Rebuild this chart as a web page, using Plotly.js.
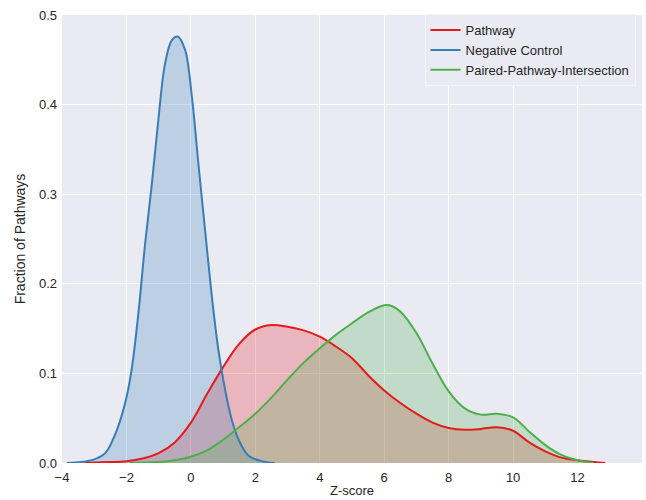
<!DOCTYPE html>
<html>
<head>
<meta charset="utf-8">
<script src="https://cdn.plot.ly/plotly-3.0.1.min.js"></script>
<style>html,body{margin:0;padding:0;background:#fff;}#chart{width:646px;height:500px;}</style>
</head>
<body>
<div id="chart"></div>
<script>
// Pathway (red)
const pathwayX = [-3.3, -2.6, -2.0, -1.5, -1.0, -0.5, 0.0, 0.5, 1.0, 1.5, 2.0, 2.5, 3.0, 3.5, 4.0, 4.5, 5.0, 5.5, 6.0, 6.5, 7.0, 7.5, 8.0, 8.5, 9.0, 9.5, 10.0, 10.5, 11.0, 11.5, 12.0, 12.5, 12.86];
const pathwayY = [0.000, 0.001, 0.002, 0.005, 0.011, 0.023, 0.045, 0.077, 0.107, 0.133, 0.149, 0.154, 0.152, 0.148, 0.141, 0.130, 0.117, 0.098, 0.081, 0.067, 0.055, 0.045, 0.039, 0.037, 0.038, 0.040, 0.036, 0.023, 0.013, 0.006, 0.003, 0.001, 0.000];

// Negative Control (blue)
const controlX = [-3.85, -3.4, -3.0, -2.66, -2.35, -2.04, -1.84, -1.63, -1.42, -1.21, -1.01, -0.80, -0.59, -0.41, -0.18, 0.03, 0.23, 0.44, 0.65, 0.85, 1.06, 1.27, 1.48, 1.79, 2.20, 2.61];
const controlY = [0.000, 0.001, 0.004, 0.011, 0.032, 0.067, 0.104, 0.167, 0.245, 0.312, 0.383, 0.446, 0.472, 0.476, 0.461, 0.409, 0.335, 0.260, 0.186, 0.127, 0.082, 0.048, 0.026, 0.008, 0.002, 0.000];

// Paired-Pathway-Intersection (green)
const pairedX = [-1.9, -1.5, -1.0, -0.5, 0.0, 0.5, 1.0, 1.5, 2.0, 2.5, 3.0, 3.5, 4.0, 4.5, 5.0, 5.5, 6.0, 6.25, 6.5, 7.0, 7.5, 8.0, 8.5, 9.0, 9.5, 10.0, 10.5, 11.0, 11.5, 12.0, 12.5];
const pairedY = [0.000, 0.0005, 0.001, 0.003, 0.007, 0.014, 0.026, 0.040, 0.055, 0.073, 0.093, 0.112, 0.128, 0.143, 0.156, 0.168, 0.176, 0.175, 0.169, 0.145, 0.111, 0.080, 0.061, 0.054, 0.055, 0.051, 0.035, 0.020, 0.009, 0.003, 0.000];

const seriesNames = ["Pathway", "Negative Control", "Paired-Pathway-Intersection"];
const xTickVals = [-4, -2, 0, 2, 4, 6, 8, 10, 12, 14];
const yTickVals = [0.0, 0.1, 0.2, 0.3, 0.4, 0.5];

const colors = ["#e41a1c", "#377eb8", "#4daf4a"];
const fills = ["rgba(228,26,28,0.25)", "rgba(55,126,184,0.25)", "rgba(77,175,74,0.25)"];
const xs = [pathwayX, controlX, pairedX];
const ys = [pathwayY, controlY, pairedY];

const traces = [];
for (let i = 0; i < 3; i++) {
  traces.push({
    x: xs[i], y: ys[i], type: "scatter", mode: "lines",
    line: {width: 0, shape: "spline", smoothing: 1, color: colors[i]},
    fill: "tozeroy", fillcolor: fills[i], showlegend: false, hoverinfo: "skip"
  });
}
for (let i = 0; i < 3; i++) {
  traces.push({
    x: xs[i], y: ys[i], type: "scatter", mode: "lines", name: seriesNames[i],
    line: {width: 2, shape: "spline", smoothing: 1, color: colors[i]}
  });
}

const layout = {
  width: 646, height: 500,
  margin: {l: 62, r: 4, t: 15, b: 37},
  paper_bgcolor: "#ffffff",
  plot_bgcolor: "#eaeaf2",
  font: {family: "Liberation Sans, Arial, sans-serif", size: 13, color: "#262626"},
  xaxis: {
    range: [-4, 14], tickvals: xTickVals, ticktext: xTickVals.map(v => v < 0 ? "\u2212" + Math.abs(v) : String(v)),
    showgrid: true, gridcolor: "#ffffff", gridwidth: 1, zeroline: false, showline: false,
    ticks: "", ticklabelstandoff: 5,
    title: {text: "Z-score", font: {size: 13, color: "#262626"}, standoff: 1}
  },
  yaxis: {
    range: [0, 0.5], tickvals: yTickVals, ticktext: yTickVals.map(v => v.toFixed(1)),
    showgrid: true, gridcolor: "#ffffff", gridwidth: 1, zeroline: false, showline: false,
    ticks: "", ticklabelstandoff: 4,
    title: {text: "Fraction of Pathways", font: {size: 14, color: "#262626"}, standoff: 10}
  },
  legend: {
    x: 0.625, y: 1.002, xanchor: "left", yanchor: "top",
    bgcolor: "#eaeaf2", bordercolor: "#f2f2f7", borderwidth: 1,
    font: {size: 13, color: "#262626"}, tracegroupgap: 0
  },
  showlegend: true
};

Plotly.newPlot("chart", traces, layout, {displayModeBar: false, staticPlot: true});
</script>
</body>
</html>
